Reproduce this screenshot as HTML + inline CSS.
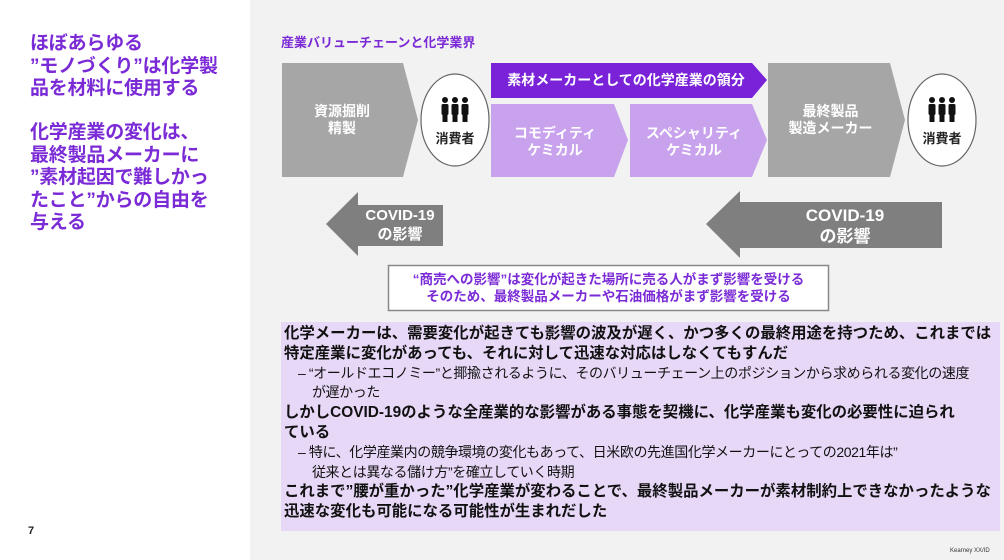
<!DOCTYPE html>
<html><head><meta charset="utf-8"><style>
*{margin:0;padding:0;box-sizing:border-box}
body{width:1004px;height:560px;position:relative;overflow:hidden;background:#fff;font-family:"Liberation Sans","Noto Sans CJK JP",sans-serif;font-weight:bold}
.abs{position:absolute}
.lt{left:30px;width:200px;color:#7b2bd6;font-size:19px;line-height:22.5px;letter-spacing:-0.2px}
.txt{position:absolute;color:#fff;text-align:center;font-size:14px;line-height:17px;display:flex;align-items:center;justify-content:center;white-space:nowrap}
.box p{margin:0;white-space:nowrap}
.box .s{font-weight:normal;font-size:14px;letter-spacing:-0.4px;padding-left:14px;margin:0}
</style></head><body>
<div class="abs" style="left:250px;top:0;width:754px;height:560px;background:#f2f2f2"></div>
<div class="abs lt" style="top:33px">ほぼあらゆる<br>”モノづくり”は化学製<br>品を材料に使用する</div>
<div class="abs lt" style="top:122px">化学産業の変化は、<br>最終製品メーカーに<br>”素材起因で難しかっ<br>たこと”からの自由を<br>与える</div>
<div class="abs" style="left:28px;top:525px;font-size:11px;color:#222">7</div>
<div class="abs" style="left:281px;top:32px;font-size:13px;color:#7b2bd6">産業バリューチェーンと化学業界</div>

<svg class="abs" style="left:0;top:0" width="1004" height="560">
<polygon points="282,63 403,63 418,120 403,177 282,177" fill="#a6a6a6"/>
<polygon points="491,63 752,63 767,80 752,98 491,98" fill="#7a22d8"/>
<polygon points="491,104 614,104 628,140 614,177 491,177" fill="#c8a2ec"/>
<polygon points="630,104 752,104 767,140 752,177 630,177" fill="#c8a2ec"/>
<polygon points="768,63 890,63 905,120 890,177 768,177" fill="#a6a6a6"/>
<ellipse cx="455" cy="120" rx="34" ry="46" fill="#fff" stroke="#666" stroke-width="1.2"/>
<ellipse cx="942" cy="120" rx="34" ry="46" fill="#fff" stroke="#666" stroke-width="1.2"/>
<g id="pp" fill="#111">
<circle cx="445" cy="100" r="3"/><rect x="441.5" y="104" width="7" height="11" rx="1.5"/><rect x="442.5" y="114" width="5" height="8"/>
<circle cx="455" cy="100" r="3"/><rect x="451.5" y="104" width="7" height="11" rx="1.5"/><rect x="452.5" y="114" width="5" height="8"/>
<circle cx="465" cy="100" r="3"/><rect x="461.5" y="104" width="7" height="11" rx="1.5"/><rect x="462.5" y="114" width="5" height="8"/>
</g>
<use href="#pp" x="487" y="0"/>
<polygon points="326,224 358,192 358,205 443,205 443,246 358,246 358,256" fill="#7f7f7f"/>
<polygon points="706,224 740,191 740,202 942,202 942,248 740,248 740,258" fill="#7f7f7f"/>
<rect x="388.5" y="265.5" width="440" height="45" fill="#fff" stroke="#888" stroke-width="1.5"/>
<rect x="281" y="322" width="719" height="209" fill="#e8d8f7"/>
</svg>

<div class="txt" style="left:282px;top:100px;width:120px;height:40px">資源掘削<br>精製</div>
<div class="txt" style="left:420px;top:128px;width:70px;height:20px;color:#222;font-size:13px">消費者</div>
<div class="txt" style="left:907px;top:128px;width:70px;height:20px;color:#222;font-size:13px">消費者</div>
<div class="txt" style="left:491px;top:63px;width:270px;height:35px">素材メーカーとしての化学産業の領分</div>
<div class="txt" style="left:491px;top:122px;width:128px;height:40px">コモディティ<br>ケミカル</div>
<div class="txt" style="left:630px;top:122px;width:128px;height:40px">スペシャリティ<br>ケミカル</div>
<div class="txt" style="left:768px;top:100px;width:125px;height:40px">最終製品<br>製造メーカー</div>
<div class="txt" style="left:350px;top:204px;width:100px;height:42px;font-size:15px;line-height:19px">COVID-19<br>の影響</div>
<div class="txt" style="left:760px;top:203px;width:170px;height:46px;font-size:17px;line-height:21px">COVID-19<br>の影響</div>
<div class="txt" style="left:390px;top:268px;width:437px;height:40px;color:#7b2bd6;font-size:13.5px;line-height:17px">“商売への影響”は変化が起きた場所に売る人がまず影響を受ける<br>そのため、最終製品メーカーや石油価格がまず影響を受ける</div>

<div class="abs box" style="left:284px;top:324px;width:712px;font-size:15.4px;line-height:19.8px;color:#111;letter-spacing:0">
<p>化学メーカーは、需要変化が起きても影響の波及が遅く、かつ多くの最終用途を持つため、これまでは<br>特定産業に変化があっても、それに対して迅速な対応はしなくてもすんだ</p>
<p class="s">– “オールドエコノミー”と揶揄されるように、そのバリューチェーン上のポジションから求められる変化の速度<br>&nbsp;&nbsp;&nbsp;&nbsp;が遅かった</p>
<p>しかしCOVID-19のような全産業的な影響がある事態を契機に、化学産業も変化の必要性に迫られ<br>ている</p>
<p class="s">– 特に、化学産業内の競争環境の変化もあって、日米欧の先進国化学メーカーにとっての2021年は”<br>&nbsp;&nbsp;&nbsp;&nbsp;従来とは異なる儲け方”を確立していく時期</p>
<p>これまで”腰が重かった”化学産業が変わることで、最終製品メーカーが素材制約上できなかったような<br>迅速な変化も可能になる可能性が生まれだした</p>
</div>
<div class="abs" style="left:950px;top:548px;font-size:6px;font-weight:normal;color:#333">Kearney XX/ID</div>
</body></html>
